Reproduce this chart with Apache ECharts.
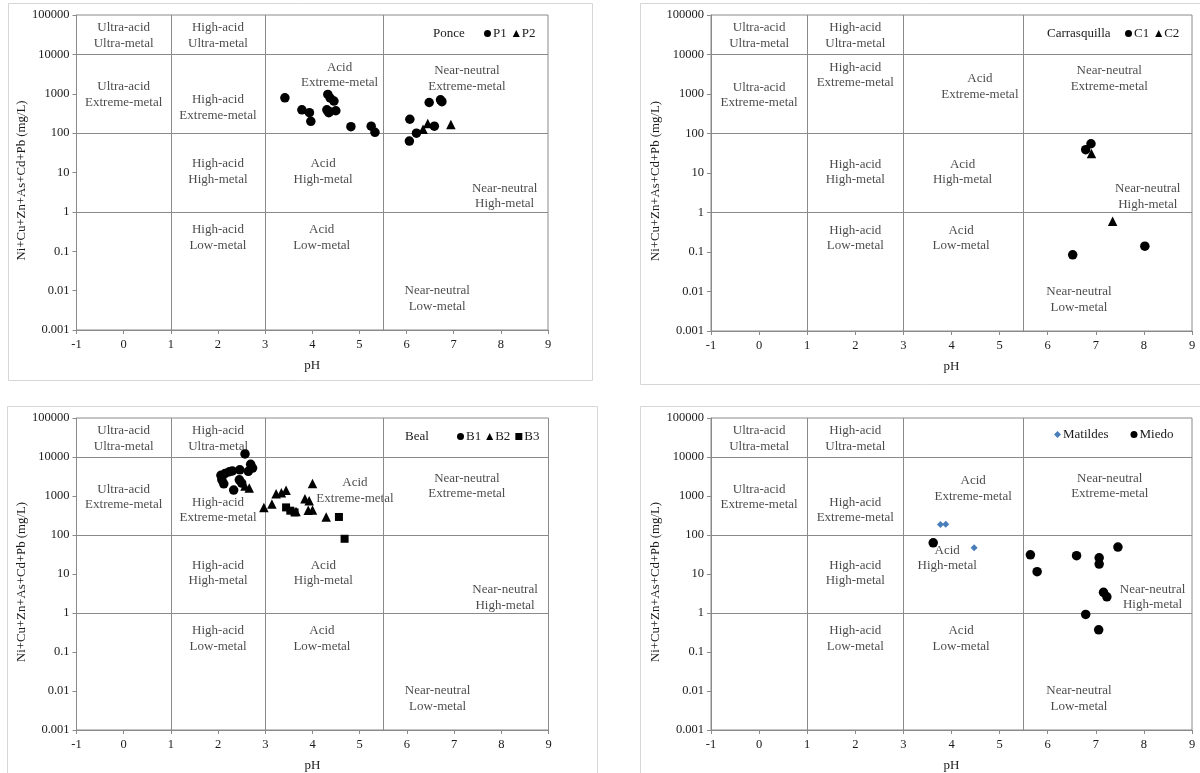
<!DOCTYPE html>
<html>
<head>
<meta charset="utf-8">
<script src="https://cdn.jsdelivr.net/npm/echarts@6/dist/echarts.min.js"></script>
<style>
html,body{margin:0;padding:0;background:#fff;}
#main{width:1200px;height:773px;}
</style>
</head>
<body>
<div id="main"></div>
<script>
// pH vs dissolved metals (Ficklin style) - four sites
var FONT = '"Liberation Serif", "Times New Roman", serif';
var TEXT = '#1a1a1a';
var LINE = '#8a8a8a';

// data: [pH, Ni+Cu+Zn+As+Cd+Pb (mg/L)]
var ponceP1 = [[3.42,790],[3.78,390],[3.94,330],[3.97,200],[4.33,960],[4.38,780],[4.46,650],[4.31,390],[4.35,330],[4.50,370],[4.37,350],[4.82,146],[5.25,150],[5.33,105],[6.07,225],[6.48,600],[6.72,700],[6.75,630],[6.06,63],[6.21,100],[6.59,150]];
var ponceP2 = [[6.35,125],[6.45,175],[6.94,165]];

var carrC1 = [[6.90,55],[6.79,39],[6.52,0.085],[8.02,0.14]];
var carrC2 = [[6.91,31],[7.35,0.6]];

var bealB1 = [[2.57,12000],[2.69,6500],[2.73,5200],[2.64,4300],[2.46,4700],[2.24,4200],[2.15,3800],[2.06,3400],[2.08,2600],[2.12,2050],[2.33,1420],[2.45,2600],[2.50,2150],[2.30,4400]];
var bealB2 = [[2.57,1800],[2.66,1600],[2.97,510],[3.14,620],[3.23,1150],[3.34,1220],[3.44,1400],[4.00,2100],[3.84,850],[3.93,760],[3.91,430],[4.00,440],[4.29,290],[3.65,400]];
var bealB3 = [[3.44,510],[3.53,420],[3.62,380],[4.56,290],[4.68,80]];

var matildes = [[3.77,185],[3.88,190],[4.47,47]];
var miedo = [[3.62,63],[5.64,31],[5.78,11.5],[6.60,29.5],[7.07,26],[7.07,18],[7.46,49],[7.16,3.4],[7.23,2.6],[6.79,0.92],[7.06,0.37]];

// classification boundaries
var metalBounds = [10000, 100, 1];
var pHBounds = [1, 3, 5.5];

// zone names and where they sit (pH, mg/L)
var zoneNames = ['Ultra-acid\nUltra-metal','High-acid\nUltra-metal','Ultra-acid\nExtreme-metal','High-acid\nExtreme-metal',
  'Acid\nExtreme-metal','Near-neutral\nExtreme-metal','High-acid\nHigh-metal','Acid\nHigh-metal',
  'Near-neutral\nHigh-metal','High-acid\nLow-metal','Acid\nLow-metal','Near-neutral\nLow-metal'];
var zoneAt = [[0,30000],[2,30000],[0,950],[2,440],[4.58,3000],[7.28,2450],[2,10.5],[4.23,10.5],[8.08,2.5],[2,0.224],[4.2,0.224],[6.65,0.0063]];

var panels = [
  {site:'Ponce', box:[8,3,584,377], grid:[76.5,15,471.5,315], siteAt:[433,27], legAt:[484,27], gap:6,
   sets:[{name:'P1', symbol:'circle', data:ponceP1},{name:'P2', symbol:'triangle', data:ponceP2}], fix:{}},
  {site:'Carrasquilla', box:[640,3,570,381], grid:[711,15,481,316], siteAt:[1047,27], legAt:[1125,27], gap:6,
   sets:[{name:'C1', symbol:'circle', data:carrC1},{name:'C2', symbol:'triangle', data:carrC2}],
   fix:{3:[2,3000],4:[4.59,1550]}},
  {site:'Beal', box:[7,406,590,380], grid:[76.5,418,472,312], siteAt:[405,430], legAt:[457,430], gap:5,
   sets:[{name:'B1', symbol:'circle', data:bealB1},{name:'B2', symbol:'triangle', data:bealB2},{name:'B3', symbol:'rect', data:bealB3}],
   fix:{4:[4.9,1380],5:[7.27,1780]}},
  {site:'', box:[640,406,570,380], grid:[711,418,481,312], siteAt:[0,0], legAt:[1054,428], gap:22,
   sets:[{name:'Matildes', symbol:'diamond', data:matildes, color:'#4a7ebb', size:7},{name:'Miedo', symbol:'circle', data:miedo}],
   fix:{4:[4.45,1550],5:[7.29,1780],7:[3.91,25.5],8:[8.18,2.55]}}
];

function logLabel(v) {
  return v >= 1 ? String(Math.round(v)) : String(+v.toPrecision(1));
}

var grid = [], xAxis = [], yAxis = [], series = [], legend = [], title = [], graphic = [];

panels.forEach(function(p, i) {
  graphic.push({type:'rect', silent:true, z:-10,
    shape:{x:p.box[0]+0.5, y:p.box[1]+0.5, width:p.box[2], height:p.box[3]},
    style:{fill:'none', stroke:'#d6d6d6', lineWidth:1}});

  grid.push({left:p.grid[0], top:p.grid[1], width:p.grid[2], height:p.grid[3],
    show:true, borderColor:LINE, borderWidth:1, backgroundColor:'transparent'});

  xAxis.push({gridIndex:i, type:'value', min:-1, max:9, interval:1,
    name:'pH', nameLocation:'middle', nameGap:29,
    nameTextStyle:{fontFamily:FONT, fontSize:13, color:TEXT},
    axisLine:{onZero:false, lineStyle:{color:LINE}},
    axisTick:{show:true, length:4, lineStyle:{color:LINE}},
    axisLabel:{fontFamily:FONT, fontSize:12.5, color:TEXT, margin:8},
    splitLine:{show:false}});

  yAxis.push({gridIndex:i, type:'log', logBase:10, min:0.001, max:100000, splitNumber:8,
    name:'Ni+Cu+Zn+As+Cd+Pb (mg/L)', nameLocation:'middle', nameGap:46,
    nameTextStyle:{fontFamily:FONT, fontSize:12.8, color:TEXT, padding:[0,0,0,-16]},
    axisLine:{show:true, onZero:false, lineStyle:{color:LINE}},
    axisTick:{show:true, length:4, lineStyle:{color:LINE}},
    axisLabel:{fontFamily:FONT, fontSize:12.5, color:TEXT, margin:7, formatter:logLabel},
    splitLine:{show:false}});

  // zone labels + boundary lines
  var zones = zoneNames.map(function(n, k) {
    return {name:n, value:(p.fix[k] || zoneAt[k])};
  });
  var bounds = metalBounds.map(function(v){ return {yAxis:v}; })
    .concat(pHBounds.map(function(v){ return {xAxis:v}; }));
  series.push({type:'scatter', xAxisIndex:i, yAxisIndex:i, silent:true, z:1,
    symbolSize:1, itemStyle:{color:'rgba(0,0,0,0)'}, data:zones,
    label:{show:true, position:'inside', formatter:'{b}', fontFamily:FONT, fontSize:13,
      color:TEXT, lineHeight:15.5, align:'center', verticalAlign:'middle'},
    markLine:{silent:true, symbol:['none','none'], label:{show:false},
      lineStyle:{color:LINE, type:'solid', width:1}, data:bounds}});

  p.sets.forEach(function(s) {
    series.push({type:'scatter', name:s.name, xAxisIndex:i, yAxisIndex:i, z:5,
      symbol:s.symbol, symbolSize:s.size || (s.symbol == 'rect' ? 8 : 9.5),
      itemStyle:{color:s.color || '#000', opacity:1}, data:s.data});
  });

  legend.push({left:p.legAt[0], top:p.legAt[1], padding:0, itemGap:p.gap,
    itemWidth:7, itemHeight:7, selectedMode:false,
    textStyle:{fontFamily:FONT, fontSize:13, color:TEXT, padding:[0,0,0,-3]},
    data:p.sets.map(function(s){ return {name:s.name, icon:s.symbol, itemStyle:{color:s.color || '#000', opacity:1}}; })});

  if (p.site) {
    title.push({text:p.site, left:p.siteAt[0], top:p.siteAt[1], padding:0,
      textStyle:{fontFamily:FONT, fontSize:13, fontWeight:'normal', color:TEXT}});
  }
});

var myChart = echarts.init(document.getElementById('main'));
myChart.setOption({
  animation:false,
  backgroundColor:'#fff',
  title:title,
  legend:legend,
  grid:grid,
  xAxis:xAxis,
  yAxis:yAxis,
  series:series,
  graphic:graphic
});
</script>
</body>
</html>
